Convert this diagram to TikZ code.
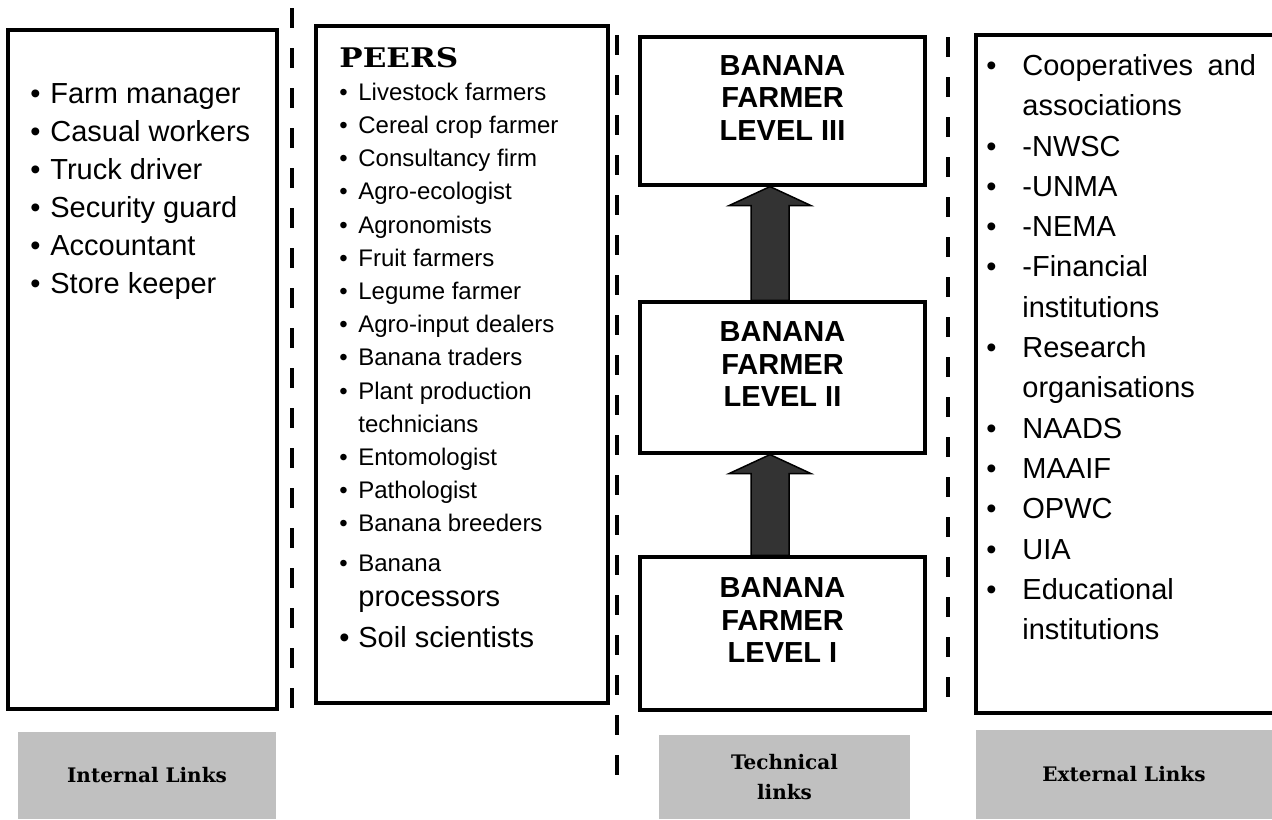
\documentclass[tikz,border=0pt]{standalone}
\usepackage{fontspec}
\setmainfont{Liberation Sans}
\newfontfamily\slabfont[FakeStretch=1.15]{DejaVu Serif}
\newfontfamily\tagfont{DejaVu Serif}
\usetikzlibrary{calc}
\definecolor{tagGray}{HTML}{C0C0C0}
\definecolor{arrowGray}{HTML}{333333}
\newcommand{\blt}[1]{\makebox[#1][l]{\textbullet}}

\begin{document}
\begin{tikzpicture}[
  x=0.5pt, y=-0.5pt,
  box/.style={draw, line width=1.6pt, inner sep=0pt},
  listtext/.style={anchor=north west, align=left, inner sep=0pt},
  levelbox/.style={draw, line width=1.6pt, minimum width=142.5pt},
  leveltext/.style={align=center, inner sep=0pt,
    font=\fontsize{14.5}{16.25}\selectfont\bfseries},
  separator/.style={line width=2pt, dash pattern=on 10pt off 10pt},
  bigarrow/.style={draw=black, line width=0.75pt, fill=arrowGray, line join=miter},
  tag/.style={fill=tagGray, inner sep=0pt, align=center,
    font=\fontsize{10}{15}\selectfont\tagfont\bfseries}
]
\useasboundingbox (0,0) rectangle (1272,819);

% internal links
\node[box, minimum width=134.5pt, minimum height=339.5pt] (internalbox) at (142.5,369.5) {};
\node[listtext, font=\fontsize{14.5}{19}\selectfont] (internallist) at (30,83) {%
  \blt{10pt}Farm manager\\
  \blt{10pt}Casual workers\\
  \blt{10pt}Truck driver\\
  \blt{10pt}Security guard\\
  \blt{10pt}Accountant\\
  \blt{10pt}Store keeper};

% peers
\node[box, minimum width=146pt, minimum height=338.5pt] (peersbox) at (462,364.5) {};
\node[anchor=base west, inner sep=0pt, font=\fontsize{13.5}{16}\selectfont\slabfont\bfseries] (peershead) at (339,67) {PEERS};
\node[listtext, font=\fontsize{12}{16.6}\selectfont] (peerslist) at (339,82.5) {%
  \blt{9.5pt}Livestock farmers\\
  \blt{9.5pt}Cereal crop farmer\\
  \blt{9.5pt}Consultancy firm\\
  \blt{9.5pt}Agro-ecologist\\
  \blt{9.5pt}Agronomists\\
  \blt{9.5pt}Fruit farmers\\
  \blt{9.5pt}Legume farmer\\
  \blt{9.5pt}Agro-input dealers\\
  \blt{9.5pt}Banana traders\\
  \blt{9.5pt}Plant production\\
  \hspace*{9.5pt}technicians\\
  \blt{9.5pt}Entomologist\\
  \blt{9.5pt}Pathologist\\
  \blt{9.5pt}Banana breeders\\[3pt]
  \blt{9.5pt}Banana\\[1pt]
  \hspace*{9.5pt}{\fontsize{14.5}{16.6}\selectfont processors}\\[4pt]
  {\fontsize{14.5}{16.6}\selectfont\blt{9.5pt}Soil scientists}};

% technical links
\node[levelbox, minimum height=74pt] (lvlthree) at (782.5,111) {};
\node[levelbox, minimum height=75.5pt] (lvltwo) at (782.5,377.5) {};
\node[levelbox, minimum height=76.5pt] (lvlone) at (782.5,633.5) {};
\node[leveltext] (lvlthreetxt) at ([yshift=6.5pt]lvlthree.center) {BANANA\\FARMER\\LEVEL III};
\node[leveltext] (lvltwotxt) at ([yshift=6.5pt]lvltwo.center) {BANANA\\FARMER\\LEVEL II};
\node[leveltext] (lvlonetxt) at ([yshift=6.5pt]lvlone.center) {BANANA\\FARMER\\LEVEL I};
\draw[bigarrow] ($(lvlone.north)+(-31.5,0)$) -- ($(lvltwo.south)+(-31.5,19)$)
  -- ($(lvltwo.south)+(-53.5,19)$) -- ($(lvltwo.south)+(-12.5,0)$)
  -- ($(lvltwo.south)+(28.5,19)$) -- ($(lvltwo.south)+(6.5,19)$)
  -- ($(lvlone.north)+(6.5,0)$) -- cycle;
\draw[bigarrow] ($(lvltwo.north)+(-31.5,0)$) -- ($(lvlthree.south)+(-31.5,19)$)
  -- ($(lvlthree.south)+(-53.5,19)$) -- ($(lvlthree.south)+(-12.5,0)$)
  -- ($(lvlthree.south)+(28.5,19)$) -- ($(lvlthree.south)+(6.5,19)$)
  -- ($(lvltwo.north)+(6.5,0)$) -- cycle;

% external links
\node[box, minimum width=162pt, minimum height=339pt] (externalbox) at (1138,374) {};
\node[listtext, font=\fontsize{14.5}{20.15}\selectfont] (externallist) at (986,54) {%
  \blt{18pt}Cooperatives\hspace{0.5em}and\\
  \hspace*{18pt}associations\\
  \blt{18pt}-NWSC\\
  \blt{18pt}-UNMA\\
  \blt{18pt}-NEMA\\
  \blt{18pt}-Financial\\
  \hspace*{18pt}institutions\\
  \blt{18pt}Research\\
  \hspace*{18pt}organisations\\
  \blt{18pt}NAADS\\
  \blt{18pt}MAAIF\\
  \blt{18pt}OPWC\\
  \blt{18pt}UIA\\
  \blt{18pt}Educational\\
  \hspace*{18pt}institutions};

% dashed separators
\draw[separator] (292,8) -- (292,712);
\draw[separator] (617,35) -- (617,775);
\draw[separator] (948,37) -- (948,715);

% link labels
\node[tag, minimum width=129pt, minimum height=43.5pt] (internaltag) at (147,775.5) {Internal Links};
\node[tag, minimum width=125.5pt, minimum height=42pt] (technicaltag) at (784.5,777) {Technical\\links};
\node[tag, minimum width=148pt, minimum height=44.5pt] (externaltag) at (1124,774.5) {External Links};
\end{tikzpicture}
\end{document}
